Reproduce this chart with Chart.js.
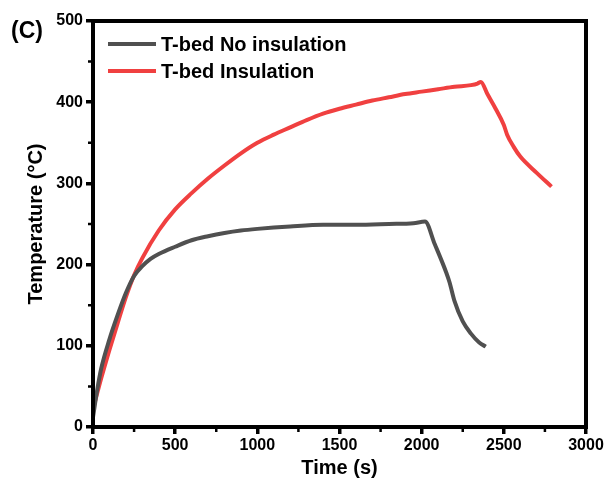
<!DOCTYPE html>
<html>
<head>
<meta charset="utf-8">
<script src="https://cdn.jsdelivr.net/npm/chart.js@4.4.1/dist/chart.umd.min.js"></script>
<style>
  html, body { margin: 0; padding: 0; background: #fff; }
  #wrap { width: 606px; height: 485px; }
</style>
</head>
<body>
<div id="wrap"><canvas id="c"></canvas></div>
<script>
const seriesNames = ["T-bed No insulation", "T-bed Insulation"]

// T-bed without insulation: time (s), temperature (°C)
const noInsTime = [0, 25, 50, 100, 150, 200, 250, 300, 350, 400, 500, 600, 700, 800, 900, 1000, 1200, 1400, 1600, 1800, 1950, 2020, 2080, 2150, 2170, 2200, 2250, 2300, 2350, 2390]
const noInsTemp = [12, 45, 72, 108, 138, 165, 186, 198, 207, 213, 222, 230, 235, 239, 242, 244, 247, 249, 249, 250, 251, 253, 225, 190, 178, 155, 130, 115, 104, 99]

// T-bed with insulation
const insTime = [0, 50, 100, 150, 200, 250, 300, 400, 500, 600, 700, 800, 900, 1000, 1100, 1200, 1300, 1400, 1500, 1600, 1700, 1800, 1900, 2000, 2100, 2200, 2300, 2340, 2360, 2400, 2450, 2500, 2520, 2560, 2600, 2700, 2790]
const insTemp = [22, 60, 95, 128, 160, 187, 208, 242, 268, 288, 306, 322, 337, 350, 360, 369, 378, 386, 392, 397, 402, 406, 410, 413, 416, 419, 421, 423, 425, 410, 392, 372, 360, 345, 333, 313, 296]

const xTicks = [0, 500, 1000, 1500, 2000, 2500, 3000]
const yTicks = [0, 100, 200, 300, 400, 500]

const toPoints = (xs, ys) => xs.map((x, i) => ({ x: x, y: ys[i] }))

const frameAndExtras = {
  id: 'frameAndExtras',
  afterDraw(chart) {
    const ctx = chart.ctx
    const a = chart.chartArea
    const xs = chart.scales.x
    const ys = chart.scales.y

    ctx.save()
    // box round the plot
    ctx.strokeStyle = "black"
    ctx.lineWidth = 4
    ctx.strokeRect(a.left, a.top, a.right - a.left, a.bottom - a.top)

    // minor ticks
    ctx.lineWidth = 2.5
    ctx.beginPath()
    for (let v = 250; v < 3000; v += 500) {
      const px = xs.getPixelForValue(v)
      ctx.moveTo(px, a.bottom)
      ctx.lineTo(px, a.bottom + 5)
    }
    for (let v = 50; v < 500; v += 100) {
      const py = ys.getPixelForValue(v)
      ctx.moveTo(a.left, py)
      ctx.lineTo(a.left - 5, py)
    }
    ctx.stroke()

    // panel label
    ctx.fillStyle = "black"
    ctx.font = "bold 23px 'Liberation Sans', Arial, sans-serif"
    ctx.textBaseline = "middle"
    ctx.textAlign = "left"
    ctx.fillText("(C)", 11, 32)

    // legend
    const colors = ["#505050", "#f04040"]
    ctx.font = "bold 20px 'Liberation Sans', Arial, sans-serif"
    seriesNames.forEach((name, i) => {
      const y = 44 + i * 27
      ctx.strokeStyle = colors[i]
      ctx.lineWidth = 4
      ctx.beginPath()
      ctx.moveTo(108, y)
      ctx.lineTo(156, y)
      ctx.stroke()
      ctx.fillStyle = "black"
      ctx.fillText(name, 161, y + 1)
    })
    ctx.restore()
  }
}

const tickFont = { family: "'Liberation Sans', Arial, sans-serif", size: 16, weight: "bold" }
const titleFont = { family: "'Liberation Sans', Arial, sans-serif", size: 20, weight: "bold" }

new Chart(document.getElementById("c"), {
  type: "line",
  data: {
    datasets: [
      {
        label: seriesNames[0],
        data: toPoints(noInsTime, noInsTemp),
        borderColor: "#505050",
        borderWidth: 4,
        pointRadius: 0,
        cubicInterpolationMode: "monotone"
      },
      {
        label: seriesNames[1],
        data: toPoints(insTime, insTemp),
        borderColor: "#f04040",
        borderWidth: 4,
        pointRadius: 0,
        cubicInterpolationMode: "monotone"
      }
    ]
  },
  options: {
    responsive: true,
    maintainAspectRatio: false,
    animation: false,
    layout: { padding: { top: 21, right: 20, left: 0, bottom: 0 } },
    plugins: {
      legend: { display: false },
      tooltip: { enabled: false }
    },
    scales: {
      x: {
        type: "linear",
        min: 0,
        max: 3000,
        afterBuildTicks: (scale) => { scale.ticks = xTicks.map(v => ({ value: v })) },
        afterFit: (scale) => { scale.height = 58 },
        border: { display: false },
        grid: { drawOnChartArea: false, drawTicks: true, tickLength: 7, lineWidth: 3.5, color: "black" },
        ticks: { color: "black", font: tickFont, padding: 2, maxRotation: 0, callback: (v) => String(v) },
        title: { display: true, text: "Time (s)", color: "black", font: titleFont, padding: { top: 0, bottom: 5 } }
      },
      y: {
        min: 0,
        max: 500,
        afterBuildTicks: (scale) => { scale.ticks = yTicks.map(v => ({ value: v })) },
        afterFit: (scale) => { scale.width = 93 },
        border: { display: false },
        grid: { drawOnChartArea: false, drawTicks: true, tickLength: 7, lineWidth: 3.5, color: "black" },
        ticks: { color: "black", font: tickFont, padding: 3, callback: (v) => String(v) },
        title: { display: true, text: "Temperature (°C)", color: "black", font: titleFont, padding: { top: 24, bottom: 0 } }
      }
    }
  },
  plugins: [frameAndExtras]
})
</script>
</body>
</html>
